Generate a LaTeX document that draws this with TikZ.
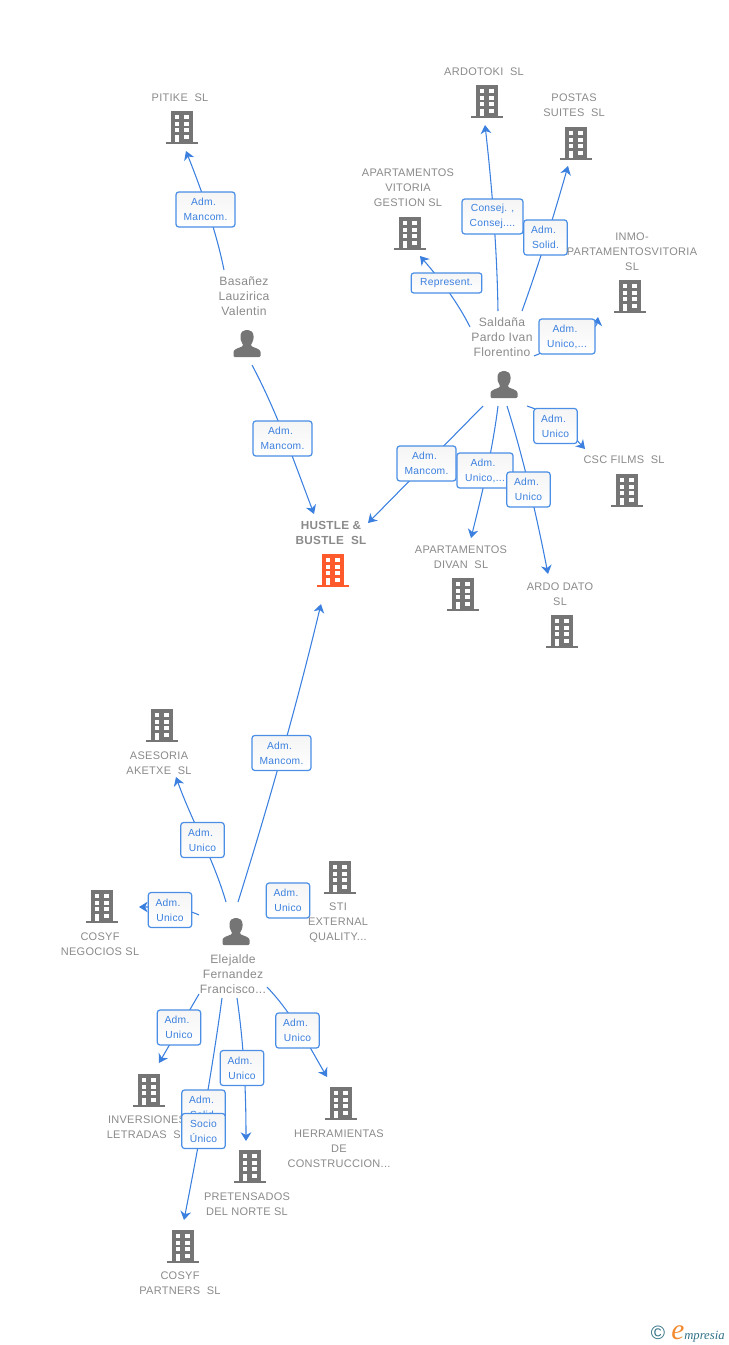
\documentclass[tikz,border=0pt]{standalone}
\usepackage{fontspec}
\setmainfont[LetterSpace=2.5]{Liberation Sans}
\newfontfamily\logofont{Liberation Serif}
\usetikzlibrary{arrows.meta}
\definecolor{linkblue}{HTML}{3B80DF}
\definecolor{boxblue}{HTML}{4A8EE6}
\definecolor{namegray}{HTML}{8A8A8A}
\definecolor{icongray}{HTML}{757575}
\definecolor{hustle}{HTML}{FF5A2B}
\definecolor{logoteal}{HTML}{2F6F86}
\definecolor{logoorange}{HTML}{F28A2E}
\newcommand{\adm}{Adm.\kern3pt}
\tikzset{
    link/.style={draw=linkblue,line width=0.8pt,-{Stealth[length=6.5pt,width=8pt,inset=2pt]}},
    tag/.style={draw=boxblue,line width=0.9pt,rounded corners=2pt,top color=black!4,bottom color=white,
        text=linkblue,align=center,inner sep=0pt,minimum height=26.2pt,minimum width=#1,
        font=\fontsize{7.7}{11.25}\selectfont},
    tag/.default=32.5pt,
    company/.style={text=namegray,align=center,inner sep=0pt,yshift=-0.6pt,font=\fontsize{8.25}{11.25}\selectfont},
    person/.style={text=namegray,align=center,inner sep=0pt,yshift=-0.4pt,font=\fontsize{9.1}{11.25}\selectfont},
    pics/building/.style={code={
        \fill[#1] (-11,-33) rectangle (11,0);
        \fill[#1] (-16,-2.5) rectangle (16,0);
        \foreach \wy in {4,10.7,17.3} {
            \fill[white] (-7,\wy-33) rectangle (-2.7,\wy-29.2);
            \fill[white] (2.3,\wy-33) rectangle (7,\wy-29.2);
        }
        \fill[white] (2.3,-9) rectangle (7,-5);
        \fill[white] (-7,-9) rectangle (-2.7,-2.5);
    }},
    pics/human/.style={code={
        \fill[icongray,rounded corners=0.8pt] (-13.5,0) -- (-13.5,-4)
            .. controls (-13.5,-8) and (-8,-9) .. (-4,-11) -- (-4,-13)
            .. controls (-6,-15) and (-6.5,-18) .. (-6.5,-20)
            .. controls (-6.5,-25) and (-3.5,-27) .. (0,-27)
            .. controls (3.5,-27) and (6.5,-25) .. (6.5,-20)
            .. controls (6.5,-18) and (6,-15) .. (4,-13) -- (4,-11)
            .. controls (8,-9) and (13.5,-8) .. (13.5,-4) -- (13.5,0) -- cycle;
    }}
}
\begin{document}
\begin{tikzpicture}[x=0.75pt,y=-0.75pt]
    \useasboundingbox (0,0) rectangle (728,1345);

    % free ends of the connectors
    \coordinate (S1) at (224,270);  \coordinate (T1) at (186,151);
    \coordinate (S2) at (252,365);  \coordinate (T2) at (314,514);
    \coordinate (S3) at (470,327);  \coordinate (T3) at (420,256);
    \coordinate (S4) at (498,311);  \coordinate (T4) at (485,125);
    \coordinate (S5) at (522,311);  \coordinate (T5) at (568,166);
    \coordinate (S6) at (534,356);  \coordinate (T6) at (598,317);
    \coordinate (S7) at (483,406);  \coordinate (T7) at (368,523);
    \coordinate (S8) at (527,406);  \coordinate (T8) at (585,449);
    \coordinate (S9) at (498,406);  \coordinate (T9) at (471,538);
    \coordinate (S10) at (507,406); \coordinate (T10) at (548,574);
    \coordinate (S11) at (238,902); \coordinate (T11) at (321,604);
    \coordinate (S12) at (226,902); \coordinate (T12) at (176,777);
    \coordinate (S13) at (199,915); \coordinate (T13) at (139,907);
    \coordinate (S14) at (199,994); \coordinate (T14) at (159,1063);
    \coordinate (S15) at (267,987); \coordinate (T15) at (327,1077);
    \coordinate (S16) at (237,998); \coordinate (T16) at (246,1141);
    \coordinate (S17) at (222,998); \coordinate (T17) at (184,1220);

    \draw[link] (S1) .. controls (216,230) and (201,189) .. (T1);
    \draw[link] (S2) .. controls (277,412) and (295,464) .. (T2);
    \draw[link] (S3) .. controls (457,301) and (439,278) .. (T3);
    \draw[link] (S4) .. controls (497,249) and (492,187) .. (T4);
    \draw[link] (S5) .. controls (539,264) and (554,215) .. (T5);
    \draw[link] (S6) .. controls (560,345) and (596,332) .. (T6);
    \draw[link] (S7) -- (T7);
    \draw[link] (S8) .. controls (555,415) and (572,435) .. (T8);
    \draw[link] (S9) .. controls (492.5,451) and (481,498) .. (T9);
    \draw[link] (S10) .. controls (524,460) and (537,518) .. (T10);
    \draw[link] (S11) .. controls (269,803) and (297,704) .. (T11);
    \draw[link] (S12) .. controls (213.5,859) and (191,819) .. (T12);
    \draw[link] (S13) .. controls (185,908) and (160,907) .. (T13);
    \draw[link] (S14) -- (T14);
    \draw[link] (S15) .. controls (292,1013) and (309,1046) .. (T15);
    \draw[link] (S16) .. controls (244,1045) and (246,1093) .. (T16);
    \draw[link] (S17) .. controls (212,1072) and (198.5,1146) .. (T17);

    % relation tags
    \node[tag=44.2pt] (l1) at (205.5,209.5) {\adm\\Mancom.};
    \node[tag=44.2pt] (l2) at (282.5,438.5) {\adm\\Mancom.};
    \node[tag=53pt,minimum height=15pt] (l3) at (446.5,283) {Represent.};
    \node[tag=45.7pt] (l4) at (492.5,216.5) {Consej. ,\\Consej....};
    \node[tag] (l5) at (545.5,237.5) {\adm\\Solid.};
    \node[tag=42pt] (l6) at (567,336.5) {\adm\\Unico,...};
    \node[tag=44.2pt] (l7) at (426.5,463.5) {\adm\\Mancom.};
    \node[tag] (l8) at (555.5,426) {\adm\\Unico};
    \node[tag=42pt] (l9) at (485,470.5) {\adm\\Unico,...};
    \node[tag] (l10) at (528.5,489.5) {\adm\\Unico};
    \node[tag=44.2pt] (l11) at (281.5,753) {\adm\\Mancom.};
    \node[tag] (l12) at (202.5,840) {\adm\\Unico};
    \node[tag] (l13) at (170,910) {\adm\\Unico};
    \node[tag] (l14) at (288,900.5) {\adm\\Unico};
    \node[tag] (l15) at (179,1027.5) {\adm\\Unico};
    \node[tag] (l16) at (297.5,1030.5) {\adm\\Unico};
    \node[tag] (l17) at (242,1068) {\adm\\Unico};

    % companies
    \pic at (182,144) {building=icongray};
    \node[company] (pitike) at (180,97) {PITIKE\ \ SL};
    \pic at (487,118) {building=icongray};
    \node[company] (ardotoki) at (484,71) {ARDOTOKI\ \ SL};
    \pic at (576,160) {building=icongray};
    \node[company] (postas) at (574,104.5) {POSTAS\\SUITES\ \ SL};
    \pic at (410,250) {building=icongray};
    \node[company] (vitoria) at (408,187) {APARTAMENTOS\\VITORIA\\GESTION SL};
    \pic at (630,313) {building=icongray};
    \node[company] (inmo) at (632,251) {INMO-\\PARTAMENTOSVITORIA\\SL};
    \pic at (627,507) {building=icongray};
    \node[company] (csc) at (624,459) {CSC FILMS\ \ SL};
    \pic at (463,611) {building=icongray};
    \node[company] (divan) at (461,556.5) {APARTAMENTOS\\DIVAN\ \ SL};
    \pic at (562,648) {building=icongray};
    \node[company] (ardodato) at (560,593.5) {ARDO DATO\\SL};
    \pic at (333,587) {building=hustle};
    \node[company,font=\fontsize{8.8}{11.25}\selectfont\bfseries] (bustle) at (331,532.5) {HUSTLE \&\\BUSTLE\ \ SL};
    \pic at (162,742) {building=icongray};
    \node[company] (asesoria) at (159,762.5) {ASESORIA\\AKETXE\ \ SL};
    \pic at (102,923) {building=icongray};
    \node[company] (negocios) at (100,943.5) {COSYF\\NEGOCIOS SL};
    \pic at (340,894) {building=icongray};
    \node[company] (sti) at (338,922) {STI\\EXTERNAL\\QUALITY...};
    \pic at (149,1107) {building=icongray};
    \node[company] (letradas) at (147,1126.5) {INVERSIONES\\LETRADAS\ \ SL};
    \pic at (341,1120) {building=icongray};
    \node[company] (herram) at (339,1148) {HERRAMIENTAS\\DE\\CONSTRUCCION...};
    \pic at (250,1183) {building=icongray};
    \node[company] (pretens) at (247,1203.5) {PRETENSADOS\\DEL NORTE SL};
    \pic at (183,1263) {building=icongray};
    \node[company] (partners) at (180,1282.5) {COSYF\\PARTNERS\ \ SL};

    % these two lie over a company name
    \node[tag] (l18) at (203.5,1107.5) {\adm\\Solid.};
    \node[tag] (l19) at (203.5,1131) {Socio\\Único};

    % people
    \pic at (247,357) {human};
    \node[person] (basanez) at (244,296) {Basañez\\Lauzirica\\Valentin};
    \pic at (504,398) {human};
    \node[person] (saldana) at (502,337) {Saldaña\\Pardo Ivan\\Florentino};
    \pic at (236,945) {human};
    \node[person] (elejalde) at (233,974) {Elejalde\\Fernandez\\Francisco...};

    % logo
    \node[text=logoteal,inner sep=0pt,font=\fontsize{14.5}{14.5}\selectfont] (copyr) at (658,1333) {©};
    \node[text=logoorange,inner sep=0pt,font=\logofont\fontsize{22}{22}\selectfont\itshape,anchor=base west] (logoe) at (671,1339) {e};
    \node[text=logoteal,inner sep=0pt,font=\logofont\fontsize{9.5}{9.5}\selectfont\itshape,anchor=base west] (logotext) at (684,1339) {mpresia};
\end{tikzpicture}
\end{document}
